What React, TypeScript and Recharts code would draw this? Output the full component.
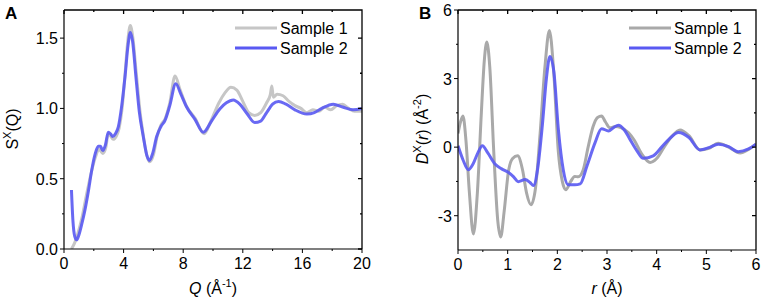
import { LineChart, Line, XAxis, YAxis } from 'recharts';

// ---- Panel A: S^X(Q) ----
const qSample1 = [0.5, 0.7, 0.9, 1.2, 1.5, 1.8, 2.1, 2.35, 2.6, 2.8, 2.97, 3.15, 3.3, 3.5, 3.7, 3.9, 4.1, 4.3, 4.45, 4.6, 4.85, 5.1, 5.35, 5.55, 5.75, 6.0, 6.25, 6.5, 6.8, 7.1, 7.45, 7.8, 8.2, 8.8, 9.4, 9.9, 10.4, 10.8, 11.2, 11.6, 12.0, 12.4, 12.8, 13.2, 13.6, 13.85, 13.95, 14.05, 14.3, 14.7, 15.1, 15.5, 15.9, 16.3, 16.7, 17.1, 17.5, 17.9, 18.3, 18.7, 19.1, 19.5, 20];
const sSample1 = [0.0, 0.04, 0.1, 0.22, 0.38, 0.53, 0.65, 0.71, 0.68, 0.72, 0.82, 0.8, 0.78, 0.8, 0.86, 1.0, 1.25, 1.5, 1.59, 1.52, 1.25, 0.98, 0.79, 0.67, 0.62, 0.67, 0.8, 0.88, 0.93, 1.04, 1.23, 1.13, 1.02, 0.93, 0.82, 0.92, 1.04, 1.11, 1.15, 1.13, 1.05, 0.97, 0.95, 0.97, 1.04, 1.1, 1.16, 1.08, 1.1, 1.09, 1.05, 1.02, 1.0, 0.97, 0.99, 0.98, 1.01, 0.99, 1.02, 1.03, 1.0, 0.98, 0.98];

const qSample2 = [0.5, 0.6, 0.72, 0.85, 1.0, 1.2, 1.41, 1.65, 1.86, 2.1, 2.3, 2.45, 2.6, 2.78, 2.97, 3.12, 3.27, 3.45, 3.65, 3.85, 4.09, 4.3, 4.45, 4.6, 4.83, 5.05, 5.32, 5.55, 5.73, 5.95, 6.22, 6.5, 6.78, 7.1, 7.5, 7.85, 8.23, 8.8, 9.35, 9.9, 10.47, 10.9, 11.36, 11.8, 12.3, 12.8, 13.2, 13.6, 14.0, 14.4, 14.9, 15.5, 16.3, 16.8, 17.3, 18.07, 18.7, 19.4, 20];
const sSample2 = [0.42, 0.2, 0.09, 0.065, 0.1, 0.18, 0.28, 0.42, 0.56, 0.68, 0.73, 0.73, 0.7, 0.74, 0.83, 0.82, 0.8, 0.82, 0.87, 1.0, 1.22, 1.45, 1.54, 1.48, 1.22, 0.98, 0.8, 0.67, 0.63, 0.68, 0.8, 0.87, 0.915, 1.02, 1.175, 1.1, 1.01, 0.92, 0.83, 0.91, 0.998, 1.04, 1.06, 1.03, 0.96, 0.9, 0.91, 0.97, 1.03, 1.05, 1.03, 0.99, 0.96, 0.97, 1.0, 1.03, 1.01, 0.99, 1.0];

// ---- Panel B: D^X(r) ----
const rSample1 = [0, 0.05, 0.1, 0.16, 0.23, 0.31, 0.39, 0.47, 0.53, 0.58, 0.64, 0.72, 0.8, 0.86, 0.93, 1.02, 1.1, 1.2, 1.3, 1.38, 1.47, 1.56, 1.65, 1.75, 1.84, 1.93, 2.02, 2.1, 2.17, 2.27, 2.35, 2.42, 2.52, 2.62, 2.72, 2.81, 2.89, 2.97, 3.06, 3.17, 3.28, 3.43, 3.55, 3.7, 3.87, 4.0, 4.15, 4.3, 4.47, 4.65, 4.87, 5.05, 5.24, 5.45, 5.68, 5.85, 6.0];
const dSample1 = [0.6, 1.1, 1.36, 0.3, -2.0, -3.8, -2.0, 1.5, 3.8, 4.6, 3.5, -0.2, -3.2, -3.93, -2.8, -1.0, -0.5, -0.38, -1.0, -2.0, -2.52, -1.8, 0.5, 3.5, 5.1, 3.2, -0.2, -1.5, -1.86, -1.5, -1.28, -1.3, -1.0, 0.0, 0.9, 1.3, 1.36, 1.1, 0.85, 0.9, 0.85, 0.64, 0.3, -0.3, -0.67, -0.5, 0.0, 0.45, 0.75, 0.5, -0.12, -0.05, 0.17, 0.0, -0.26, -0.1, 0.13];

const rSample2 = [0, 0.1, 0.21, 0.3, 0.4, 0.49, 0.6, 0.745, 0.88, 1.01, 1.12, 1.21, 1.35, 1.45, 1.52, 1.6, 1.7, 1.78, 1.85, 1.93, 2.02, 2.12, 2.22, 2.35, 2.46, 2.6, 2.76, 2.89, 3.03, 3.13, 3.23, 3.35, 3.46, 3.6, 3.73, 3.93, 4.1, 4.25, 4.44, 4.65, 4.87, 5.05, 5.24, 5.45, 5.64, 5.85, 6.0];
const dSample2 = [0.06, -0.55, -0.99, -0.75, -0.25, 0.06, -0.25, -0.74, -0.95, -1.1, -1.3, -1.51, -1.42, -1.55, -1.68, -1.0, 1.0, 3.0, 3.97, 3.3, 0.8, -1.0, -1.65, -1.65, -1.61, -0.8, 0.2, 0.81, 0.71, 0.85, 0.96, 0.75, 0.35, -0.15, -0.49, -0.38, 0.0, 0.35, 0.64, 0.42, -0.12, -0.02, 0.13, 0.02, -0.2, -0.08, 0.13];

const seriesNames = ['Sample 1', 'Sample 2'];

// ticks
const qMajor = [0, 4, 8, 12, 16, 20];
const qMinor = [2, 6, 10, 14, 18];
const sMajor = [0, 0.5, 1.0, 1.5];
const sMinor = [0.25, 0.75, 1.25];
const rMajor = [0, 1, 2, 3, 4, 5, 6];
const rMinor = [0.5, 1.5, 2.5, 3.5, 4.5, 5.5];
const dMajor = [-3, 0, 3, 6];
const dMinor = [-1.5, 1.5, 4.5];

const FONT = '"Liberation Sans", Arial, sans-serif';
const GRAY_A = '#c6c6c6';
const GRAY_B = '#a9a9a9';
const BLUE = '#5959f2';

const CHART_W = 380;
const CHART_H = 300;

const zip = (xs: number[], ys: number[]) => xs.map((x, i) => ({ x, y: ys[i] }));
const isMajor = (arr: number[], v: number) => arr.some(m => Math.abs(m - v) < 1e-9);
const sorted = (a: number[], b: number[]) => [...a, ...b].sort((p, q) => p - q);

type Margin = { top: number; right: number; bottom: number; left: number };
const marginA: Margin = { top: 10, right: 18, bottom: 50, left: 63 };
const marginB: Margin = { top: 10, right: 9, bottom: 49, left: 72 };

type Side = 'bottom' | 'left';

// tick lines drawn by hand so minor ticks can be shorter than major ones
const makeTick = (side: Side, majors: number[], fmt: (v: number) => string) =>
  (props: any) => {
    const { x, y, payload } = props;
    const v = payload.value;
    const major = isMajor(majors, v);
    const len = major ? 4 : 2;
    if (side === 'bottom') {
      return (
        <g>
          <line x1={x} y1={y} x2={x} y2={y + len} stroke="#000" />
          {major && <text x={x} y={y + 20} textAnchor="middle" fontSize={16} fontFamily={FONT} fill="#000">{fmt(v)}</text>}
        </g>
      );
    }
    return (
      <g>
        <line x1={x} y1={y} x2={x - len} y2={y} stroke="#000" />
        {major && <text x={x - 6} y={y + 6} textAnchor="end" fontSize={16} fontFamily={FONT} fill="#000">{fmt(v)}</text>}
      </g>
    );
  };

interface PanelProps {
  left: number;
  s1: { x: number; y: number }[];
  s2: { x: number; y: number }[];
  gray: string;
  xDomain: [number, number];
  yDomain: [number, number];
  xMajor: number[];
  xMinor: number[];
  yMajor: number[];
  yMinor: number[];
  xFmt: (v: number) => string;
  yFmt: (v: number) => string;
  margin: Margin;
}

function Panel({ left, s1, s2, gray, xDomain, yDomain, xMajor, xMinor, yMajor, yMinor, xFmt, yFmt, margin }: PanelProps) {
  const axisLine = { stroke: '#000', strokeWidth: 1.2 };
  const common = { type: 'number' as const, interval: 0, tickSize: 0, tickMargin: 0, tickLine: false, axisLine, allowDataOverflow: true };
  return (
    <div style={{ position: 'absolute', left, top: 0, width: CHART_W, height: CHART_H }}>
      <LineChart width={CHART_W} height={CHART_H} margin={margin}>
        <XAxis xAxisId="b" dataKey="x" domain={xDomain} ticks={sorted(xMajor, xMinor)} height={1} {...common}
          tick={makeTick('bottom', xMajor, xFmt)} />
        <YAxis yAxisId="l" domain={yDomain} ticks={sorted(yMajor, yMinor)} width={1} {...common}
          tick={makeTick('left', yMajor, yFmt)} />
        <Line xAxisId="b" yAxisId="l" data={s1} dataKey="y" name={seriesNames[0]} type="monotone"
          stroke={gray} strokeWidth={3} dot={false} isAnimationActive={false} />
        <Line xAxisId="b" yAxisId="l" data={s2} dataKey="y" name={seriesNames[1]} type="monotone"
          stroke={BLUE} strokeOpacity={0.9} strokeWidth={3} dot={false} isAnimationActive={false} />
      </LineChart>
    </div>
  );
}

// top and right edges of the frame with inward ticks (mirrors of the left/bottom axes)
function MirrorFrame({ left, margin, xDomain, yDomain, xMajor, xMinor, yMajor, yMinor }: {
  left: number; margin: Margin; xDomain: [number, number]; yDomain: [number, number];
  xMajor: number[]; xMinor: number[]; yMajor: number[]; yMinor: number[];
}) {
  const pl = left + margin.left + 1;
  const pr = left + CHART_W - margin.right;
  const pt = margin.top;
  const pb = CHART_H - margin.bottom - 1;
  const sx = (v: number) => pl + ((v - xDomain[0]) / (xDomain[1] - xDomain[0])) * (pr - pl);
  const sy = (v: number) => pb - ((v - yDomain[0]) / (yDomain[1] - yDomain[0])) * (pb - pt);
  const d = [
    `M${pl},${pt}H${pr}V${pb}`,
    ...sorted(xMajor, xMinor).map(v => `M${sx(v)},${pt}v${isMajor(xMajor, v) ? 4 : 2}`),
    ...sorted(yMajor, yMinor).map(v => `M${pr},${sy(v)}h${isMajor(yMajor, v) ? -4 : -2}`),
  ].join('');
  return <path d={d} fill="none" stroke="#000000" strokeWidth={1.3} />;
}

function LegendBox({ x, y, gray }: { x: number; y: number; gray: string }) {
  const colors = [gray, BLUE];
  return (
    <g>
      {seriesNames.map((name, i) => (
        <g key={name}>
          <line x1={x} y1={y + i * 20} x2={x + 42} y2={y + i * 20} stroke={colors[i]} strokeWidth={3} />
          <text x={x + 45} y={y + i * 20 + 6} fontSize={16} fontFamily={FONT} fill="#000">{name}</text>
        </g>
      ))}
    </g>
  );
}

export default function App() {
  return (
    <div style={{ position: 'fixed', left: 0, top: 0, width: 765, height: 300, background: '#fff', fontFamily: FONT }}>
      <Panel
        left={0}
        s1={zip(qSample1, sSample1)}
        s2={zip(qSample2, sSample2)}
        gray={GRAY_A}
        xDomain={[0, 20]}
        yDomain={[0, 1.7]}
        xMajor={qMajor}
        xMinor={qMinor}
        yMajor={sMajor}
        yMinor={sMinor}
        xFmt={v => String(v)}
        yFmt={v => v.toFixed(1)}
        margin={marginA}
      />
      <Panel
        left={385}
        s1={zip(rSample1, dSample1)}
        s2={zip(rSample2, dSample2)}
        gray={GRAY_B}
        xDomain={[0, 6]}
        yDomain={[-4.5, 6]}
        xMajor={rMajor}
        xMinor={rMinor}
        yMajor={dMajor}
        yMinor={dMinor}
        xFmt={v => String(v)}
        yFmt={v => String(v)}
        margin={marginB}
      />
      <svg width={765} height={300} style={{ position: 'absolute', left: 0, top: 0, pointerEvents: 'none' }}>
        <MirrorFrame left={0} margin={marginA} xDomain={[0, 20]} yDomain={[0, 1.7]}
          xMajor={qMajor} xMinor={qMinor} yMajor={sMajor} yMinor={sMinor} />
        <MirrorFrame left={385} margin={marginB} xDomain={[0, 6]} yDomain={[-4.5, 6]}
          xMajor={rMajor} xMinor={rMinor} yMajor={dMajor} yMinor={dMinor} />

        <text x={5} y={19} fontSize={17} fontWeight="bold" fontFamily={FONT}>A</text>
        <text x={419} y={19} fontSize={17} fontWeight="bold" fontFamily={FONT}>B</text>

        <LegendBox x={235} y={28} gray={GRAY_A} />
        <LegendBox x={629} y={28} gray={GRAY_B} />

        <text transform="translate(18,129) rotate(-90)" textAnchor="middle" fontSize={16} fontFamily={FONT}>
          S<tspan dy={-7} fontSize={11}>X</tspan><tspan dy={7}>(Q)</tspan>
        </text>
        <text transform="translate(428,129) rotate(-90)" textAnchor="middle" fontSize={16} fontFamily={FONT}>
          <tspan fontStyle="italic">D</tspan><tspan dy={-7} fontSize={11}>X</tspan><tspan dy={7}>(</tspan><tspan fontStyle="italic">r</tspan>) (Å<tspan dy={-7} fontSize={11}>-2</tspan><tspan dy={7}>)</tspan>
        </text>

        <text x={213} y={294} textAnchor="middle" fontSize={16} fontFamily={FONT}>
          <tspan fontStyle="italic">Q</tspan> (Å<tspan dy={-7} fontSize={11}>-1</tspan><tspan dy={7}>)</tspan>
        </text>
        <text x={607} y={294} textAnchor="middle" fontSize={16} fontFamily={FONT}>
          <tspan fontStyle="italic">r</tspan> (Å)
        </text>
      </svg>
    </div>
  );
}
